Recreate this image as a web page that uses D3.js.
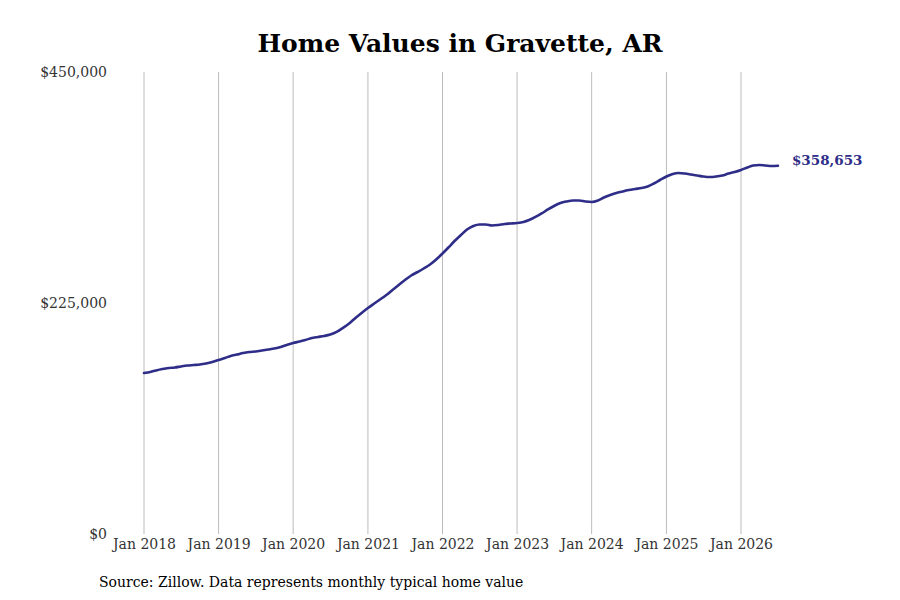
<!DOCTYPE html>
<html>
<head>
<meta charset="utf-8">
<script src="https://cdn.jsdelivr.net/npm/d3@7"></script>
<style>
  body { margin: 0; background: #fff; }
  svg { display: block; }
</style>
</head>
<body>
<script>
// monthly typical home value, Jan 2018 .. Jul 2026
var startMonth = "2018-01";
var values = [
  156800, 157800, 159300, 160700, 161700, 162200, 163200, 164100, 164600, 165100, 166100, 167500,
  169500, 171400, 173400, 174800, 176300, 177300, 177800, 178700, 179700, 180700, 182100, 184100,
  186000, 187500, 189000, 190900, 191900, 192900, 194300, 196800, 200700, 205000, 210400, 215300,
  220100, 224500, 228400, 232800, 237700, 242500, 247400, 251800, 255200, 258600, 262500, 267400,
  273200, 279500, 285400, 291200, 296600, 300000, 301500, 301500, 300500, 301000, 302000, 302400,
  302900, 303900, 305800, 308800, 312200, 316100, 319500, 322400, 323900, 324800, 324800, 323900,
  323400, 324800, 327800, 330200, 332200, 333600, 335100, 336100, 337000, 338500, 341400, 344800,
  348200, 350700, 351600, 351100, 350200, 349200, 348200, 347700, 348200, 349200, 351100, 352600,
  354600, 357000, 358900, 359400, 358900, 358400, 358653
];
var yTicks = [0, 225000, 450000];
var xTickYears = [2018, 2019, 2020, 2021, 2022, 2023, 2024, 2025, 2026];
var lastLabel = "$358,653";

var width = 900, height = 600;
var lineColor = "#2e2d88";

var parse = d3.timeParse("%Y-%m");
var t0 = parse(startMonth);
var data = values.map(function (v, i) {
  return { date: d3.timeMonth.offset(t0, i), value: v };
});

var svg = d3.select("body").append("svg")
  .attr("width", width)
  .attr("height", height);

var x = d3.scaleTime()
  .domain([new Date(2018, 0, 1), new Date(2026, 0, 1)])
  .range([144, 741]);

var y = d3.scaleLinear()
  .domain([0, 450000])
  .range([534, 72]);

// vertical grid lines at each January
svg.append("g")
  .selectAll("line")
  .data(xTickYears)
  .enter().append("line")
  .attr("x1", function (d) { return x(new Date(d, 0, 1)); })
  .attr("x2", function (d) { return x(new Date(d, 0, 1)); })
  .attr("y1", y(450000))
  .attr("y2", y(0))
  .attr("stroke", "#bcbcbc")
  .attr("stroke-width", 1);

// x axis labels
var xAxis = d3.axisBottom(x)
  .tickValues(xTickYears.map(function (d) { return new Date(d, 0, 1); }))
  .tickFormat(d3.timeFormat("Jan %Y"))
  .tickSize(0)
  .tickPadding(5);

svg.append("g")
  .attr("transform", "translate(0," + y(0) + ")")
  .call(xAxis)
  .call(function (g) { g.select(".domain").remove(); })
  .selectAll("text")
  .attr("font-family", "DejaVu Serif")
  .attr("font-size", 14)
  .attr("fill", "#333");

// y axis labels
var yAxis = d3.axisLeft(y)
  .tickValues(yTicks)
  .tickFormat(function (d) { return "$" + d3.format(",")(d); })
  .tickSize(0)
  .tickPadding(0);

svg.append("g")
  .attr("transform", "translate(107,0)")
  .call(yAxis)
  .call(function (g) { g.select(".domain").remove(); })
  .selectAll("text")
  .attr("font-family", "DejaVu Serif")
  .attr("font-size", 14)
  .attr("fill", "#333");

// the line
var line = d3.line()
  .x(function (d) { return x(d.date); })
  .y(function (d) { return y(d.value); })
  .curve(d3.curveMonotoneX);

svg.append("path")
  .datum(data)
  .attr("d", line)
  .attr("fill", "none")
  .attr("stroke", lineColor)
  .attr("stroke-width", 2.6)
  .attr("stroke-linejoin", "round")
  .attr("stroke-linecap", "round");

// end label
var last = data[data.length - 1];
svg.append("text")
  .attr("x", x(last.date) + 14)
  .attr("y", y(last.value) - 1)
  .attr("font-family", "DejaVu Serif")
  .attr("font-weight", "bold")
  .attr("font-size", 13.5)
  .attr("fill", lineColor)
  .text(lastLabel);

// title
svg.append("text")
  .attr("x", 460)
  .attr("y", 52)
  .attr("text-anchor", "middle")
  .attr("font-family", "DejaVu Serif")
  .attr("font-weight", "bold")
  .attr("font-size", 25)
  .attr("fill", "#000")
  .text("Home Values in Gravette, AR");

// source note
svg.append("text")
  .attr("x", 99)
  .attr("y", 587)
  .attr("font-family", "DejaVu Serif")
  .attr("font-size", 14)
  .attr("fill", "#000")
  .text("Source: Zillow. Data represents monthly typical home value");
</script>
</body>
</html>
